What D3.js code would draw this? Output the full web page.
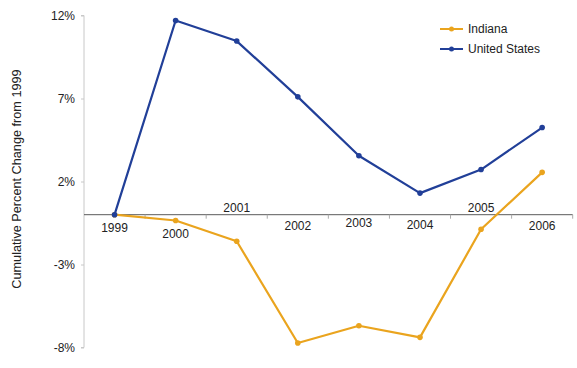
<!DOCTYPE html>
<html><head><meta charset="utf-8">
<script src="https://cdn.jsdelivr.net/npm/d3@7"></script>
<style>body{margin:0;background:#fff}svg text{font-family:"Liberation Sans",Arial,sans-serif}</style>
</head><body>
<svg id="c" width="577" height="368"></svg>
<script>
const years = ["1999","2000","2001","2002","2003","2004","2005","2006"];
const indiana = [0, -0.35, -1.6, -7.73, -6.69, -7.39, -0.88, 2.55];
const unitedStates = [0, 11.7, 10.46, 7.1, 3.55, 1.3, 2.72, 5.25];
const yTicks = [12, 7, 2, -3, -8];
const seriesNames = ["Indiana", "United States"];
const colors = ["#EAA41E", "#213F98"];

const svg = d3.select("#c");
const x = d3.scaleBand().domain(years).range([84, 572.7]);
const y = d3.scaleLinear().domain([-8, 12]).range([347.5, 15.5]);

// y axis
const yAxis = svg.append("g").attr("transform","translate(84,0)")
  .call(d3.axisLeft(y).tickValues(yTicks).tickSize(3).tickPadding(6).tickFormat(d => d + "%"));
yAxis.select(".domain").attr("stroke","#c8c8c8").attr("d","M-3,15.5H0V347.5H-3");
yAxis.selectAll(".tick line").attr("stroke","#c8c8c8");
yAxis.selectAll(".tick text").attr("font-size","12px").attr("fill","#222").attr("font-family","Liberation Sans, Arial, sans-serif");

// zero axis line with category ticks
const x0 = y(0);
svg.append("line").attr("x1",84).attr("x2",572.7).attr("y1",x0).attr("y2",x0).attr("stroke","#5a5a5a").attr("stroke-width",1);
const bounds = years.map(d => x(d)).concat([x.range()[1]]);
svg.selectAll(".xt").data(bounds.slice(1)).join("line")
  .attr("x1",d=>d).attr("x2",d=>d).attr("y1",x0).attr("y2",x0+4).attr("stroke","#aaa");

// category labels (Excel-style placement offsets)
const labelDy = [17, 23, -3, 15, 12.5, 14.5, -3, 15];
svg.selectAll(".xl").data(years).join("text")
  .attr("x", d => x(d) + x.bandwidth()/2)
  .attr("y", (d,i) => x0 + labelDy[i])
  .attr("text-anchor","middle").attr("font-size","12px").attr("fill","#222")
  .text(d => d);

// y axis title
svg.append("text").attr("transform","translate(21,179) rotate(-90)")
  .attr("text-anchor","middle").attr("font-size","12.7px").attr("fill","#222")
  .text("Cumulative Percent Change from 1999");

// lines
const data = [indiana, unitedStates];
const line = d3.line().x((d,i) => x(years[i]) + x.bandwidth()/2).y(d => y(d));
data.forEach((vals, k) => {
  svg.append("path").datum(vals).attr("d", line).attr("fill","none")
    .attr("stroke", colors[k]).attr("stroke-width", 2.2).attr("stroke-linejoin","round");
  svg.selectAll(".p"+k).data(vals).join("circle")
    .attr("cx",(d,i) => x(years[i]) + x.bandwidth()/2).attr("cy", d => y(d)).attr("r", 2.8)
    .attr("fill", colors[k]);
});

// legend
seriesNames.forEach((n,k) => {
  const ly = 29 + k*20;
  svg.append("line").attr("x1",440).attr("x2",463).attr("y1",ly).attr("y2",ly).attr("stroke",colors[k]).attr("stroke-width",2);
  svg.append("circle").attr("cx",451.5).attr("cy",ly).attr("r",2.5).attr("fill",colors[k]);
  svg.append("text").attr("x",468).attr("y",ly+4).attr("font-size","12px").attr("fill","#222").text(n);
});
</script>
</body></html>
